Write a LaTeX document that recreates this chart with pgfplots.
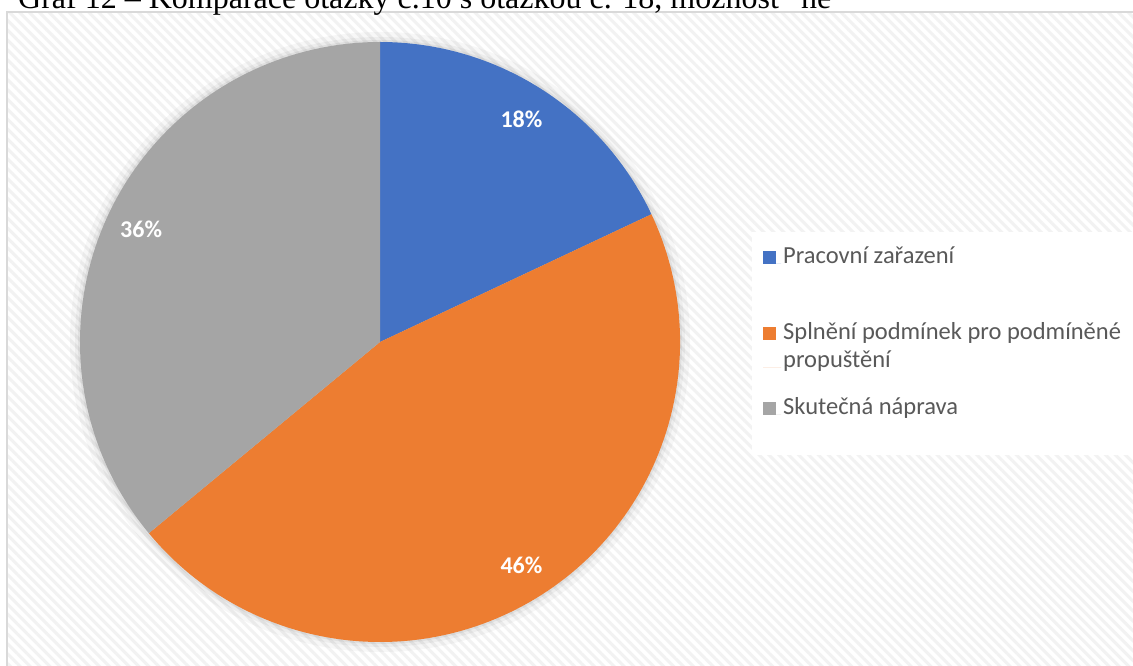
\documentclass[border=0pt]{standalone}
\usepackage{pgfplots}
\pgfplotsset{compat=1.18}
\usepackage{pgfplotstable}
\usetikzlibrary{patterns.meta}
\usepackage{fontspec}
\setmainfont{Carlito}
\newfontfamily\titlefont{Liberation Serif}

\definecolor{pieblue}{HTML}{4472C4}
\definecolor{pieorange}{HTML}{ED7D31}
\definecolor{piegray}{HTML}{A5A5A5}
\definecolor{legtext}{HTML}{595959}

% square marker beside the first of two lines
\pgfplotsset{raisedlegend/.style={legend image code/.code={
    \path (0pt,0pt) -- (18pt,0pt);
    \fill[##1] (0pt,27.5pt) rectangle (13pt,40.5pt);}}}

% shares in percent, clockwise from the top
\pgfplotstableread[col sep=comma]{
share,name
18,Pracovní zařazení
46,Splnění podmínek pro podmíněné propuštění
36,Skutečná náprava
}\piedata

\begin{document}
\begin{tikzpicture}[x=1pt,y=1pt]
\path[use as bounding box] (0,0) rectangle (1133,666);
\clip (0,0) rectangle (1133,666);
\fill[white] (0,0) rectangle (1133,666);
% chart area with light hatching
\fill[pattern={Lines[angle=-45,distance=7pt,line width=3pt]}, pattern color=black!5]
  (7,-10) rectangle (1145,654);
\draw[black!15, line width=1.5pt] (7,-10) rectangle (1145,654);
% caption, cut off at the top
\node[anchor=base west, inner sep=0pt, font=\titlefont\fontsize{32}{38}\selectfont]
  at (18,657) {Graf 12 – Komparace otázky č.10 s otázkou č. 18, možnost “ne”};
% legend box
\fill[white] (752,211) rectangle (1145,434);

\begin{axis}[
    anchor=origin, at={(380pt,324pt)},
    x=300pt, y=300pt,
    xmin=-1.1, xmax=1.1, ymin=-1.1, ymax=1.1,
    hide axis, clip=false,
    legend style={
        at={(axis cs:1.2767,0.3233)}, anchor=north west,
        draw=none, fill=none, inner sep=0pt,
        font=\fontsize{24.5}{28}\selectfont, text=legtext,
        cells={anchor=base west},
        row sep=24pt,
    },
    legend image code/.code={
        \path (0pt,0pt) -- (18pt,0pt);
        \fill[#1] (0pt,-0.5pt) rectangle (13pt,12.5pt);},
]
\addlegendimage{fill=pieblue, draw=none}
\addlegendentry[text depth=31pt]{Pracovní zařazení}
\addlegendimage{fill=pieorange, draw=none, raisedlegend}
\addlegendentry[align=left]{Splnění podmínek pro podmíněné\\propuštění}
\addlegendimage{fill=piegray, draw=none}
\addlegendentry{Skutečná náprava}

\pgfplotsextra{
  % soft shadow around the pie
  \fill[black, opacity=0.03] (axis cs:0,0) circle[radius=310pt];
  \fill[black, opacity=0.04] (axis cs:0,0) circle[radius=305pt];
  \fill[black, opacity=0.05] (axis cs:0,0) circle[radius=302pt];
  \gdef\angA{90}
  \foreach \i/\c in {0/pieblue,1/pieorange,2/piegray}{
    \pgfplotstablegetelem{\i}{share}\of\piedata
    \let\val\pgfplotsretval
    \pgfmathsetmacro\angB{\angA-3.6*\val}
    \pgfmathsetmacro\angM{(\angA+\angB)/2}
    \fill[\c] (axis cs:0,0) -- (axis cs:{cos(\angA)},{sin(\angA)})
      arc[start angle=\angA, end angle=\angB, radius=300pt] -- cycle;
    \node[text=white, font=\bfseries\fontsize{24}{28}\selectfont]
      at (axis cs:{0.88*cos(\angM)},{0.88*sin(\angM)}) {\val\%};
    \xdef\angA{\angB}
  }
}
\end{axis}
\end{tikzpicture}
\end{document}
